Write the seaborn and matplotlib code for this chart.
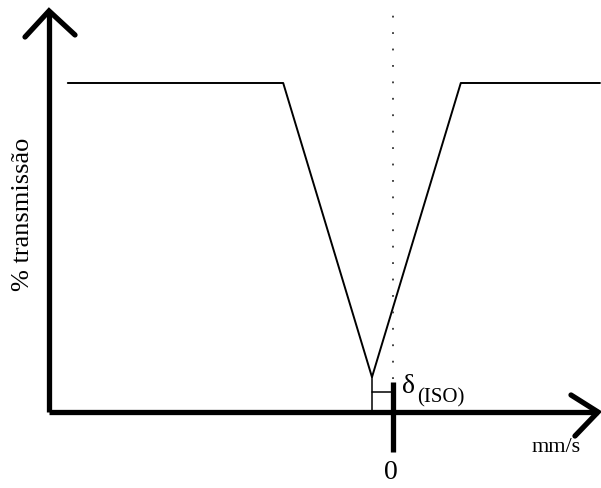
import matplotlib
matplotlib.use("Agg")
import matplotlib.pyplot as plt
import seaborn as sns
import pandas as pd

# Schematic Mössbauer absorption line: velocity (mm/s) vs. % transmission
velocity = [-5.42, -1.83, -0.35, 1.13, 3.45]
transmission = [100.0, 100.0, 10.6, 100.0, 100.0]
x_label = "mm/s"
y_label = "% transmissão"
zero_label = "0"
shift_symbol = "δ"
shift_sub = "(ISO)"

sns.set_theme(style="white")
plt.rcParams["font.family"] = ["Liberation Serif", "DejaVu Serif"]

df = pd.DataFrame({"v": velocity, "T": transmission})

fig = plt.figure(figsize=(6.01, 4.89), dpi=100)
ax = fig.add_axes([0, 0, 1, 1])
ax.set_xlim(-6.55, 3.467)
ax.set_ylim(-23.1, 125.53)
ax.axis("off")

# spectrum
sns.lineplot(data=df, x="v", y="T", sort=False, color="black", lw=1.4, ax=ax)

# axes drawn as arrows
ax_x0 = -5.733
ax.plot([ax_x0, ax_x0], [0, 121.9], color="black", lw=3.8, solid_capstyle="butt")
ax.plot([-6.133, ax_x0, -5.30], [113.98, 121.9, 114.6], color="black", lw=3.8,
        solid_joinstyle="miter", solid_capstyle="round")
ax.plot([ax_x0, 3.417], [0, 0], color="black", lw=3.8, solid_capstyle="butt")
ax.plot([2.967, 3.417, 3.033], [5.17, 0, -7.3], color="black", lw=3.8,
        solid_joinstyle="miter", solid_capstyle="round")

# zero tick and dotted reference line
ax.plot([0, 0], [9.1, -12.2], color="black", lw=3.8, solid_capstyle="butt")
ax.plot([0, 0], [10.0, 121.5], color="#333333", lw=1.3, linestyle=(0, (1, 8.1)))

# isomer shift marker
delta = velocity[2]
dip = transmission[2]
ax.plot([delta, delta], [0, dip], color="black", lw=1.1)
ax.plot([delta, 0], [6.08, 6.08], color="black", lw=1.1)

# labels
ax.text(-0.03, -18.2, zero_label, ha="center", va="center", fontsize=20, color="black")
ax.text(2.717, -10.6, x_label, ha="center", va="center", fontsize=16, color="black")
ax.text(-6.167, 60.5, y_label, ha="center", va="center", rotation=90,
        fontsize=19, color="black")
ax.text(0.15, 8.0, shift_symbol, ha="left", va="center", fontsize=20, color="black")
ax.text(0.40, 4.6, shift_sub, ha="left", va="center", fontsize=15, color="black")

fig.savefig("out.png", dpi=100, facecolor="white")
